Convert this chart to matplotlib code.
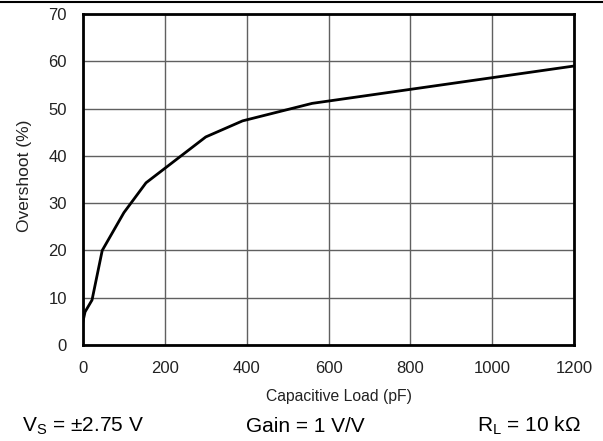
import matplotlib
matplotlib.use('Agg')
import matplotlib.pyplot as plt
from matplotlib.lines import Line2D

plt.rcParams['font.family'] = ['Liberation Sans', 'DejaVu Sans']

# data
cap_load = [0, 5, 22, 47, 100, 154, 300, 390, 560, 1200]
overshoot = [5, 7, 9.5, 20, 28, 34.3, 44, 47.4, 51.1, 59]

xticks = [0, 200, 400, 600, 800, 1000, 1200]
yticks = [0, 10, 20, 30, 40, 50, 60, 70]

fig = plt.figure(figsize=(6.03, 4.41), dpi=100)
ax = fig.add_axes([83 / 603, 1 - 345 / 441, 491 / 603, 331 / 441])

ax.plot(cap_load, overshoot, color='black', lw=2, zorder=3)

ax.set_xlim(0, 1200)
ax.set_ylim(0, 70)
ax.set_xticks(xticks)
ax.set_yticks(yticks)
ax.tick_params(length=0, labelsize=12, pad=11.5, labelcolor='#222222')
ax.grid(True, color='#606060', lw=1)
for s in ax.spines.values():
    s.set_linewidth(2)
    s.set_color('black')

ax.set_xlabel('Capacitive Load (pF)', fontsize=11.3, color='#222222', va='center')
ax.xaxis.set_label_coords(0.522, -(397 - 345) / 331)
ax.set_ylabel('Overshoot (%)', fontsize=12.5, color='#222222', va='center')
ax.yaxis.set_label_coords((24 - 83) / 491, 0.51)

# conditions line under the chart
y_cond = 1 - 426 / 441
fig.text(22 / 603, y_cond, r'V$_\mathregular{S}$ = ±2.75 V', fontsize=15, va='center')
fig.text(246 / 603, y_cond, 'Gain = 1 V/V', fontsize=15, va='center')
fig.text(477 / 603, y_cond, r'R$_\mathregular{L}$ = 10 k$\mathregular{\Omega}$', fontsize=15, va='center')

# rule across the top of the figure
fig.add_artist(Line2D([0, 1], [1 - 2 / 441, 1 - 2 / 441], color='black', lw=1.5))

fig.savefig('out.png', dpi=100)
